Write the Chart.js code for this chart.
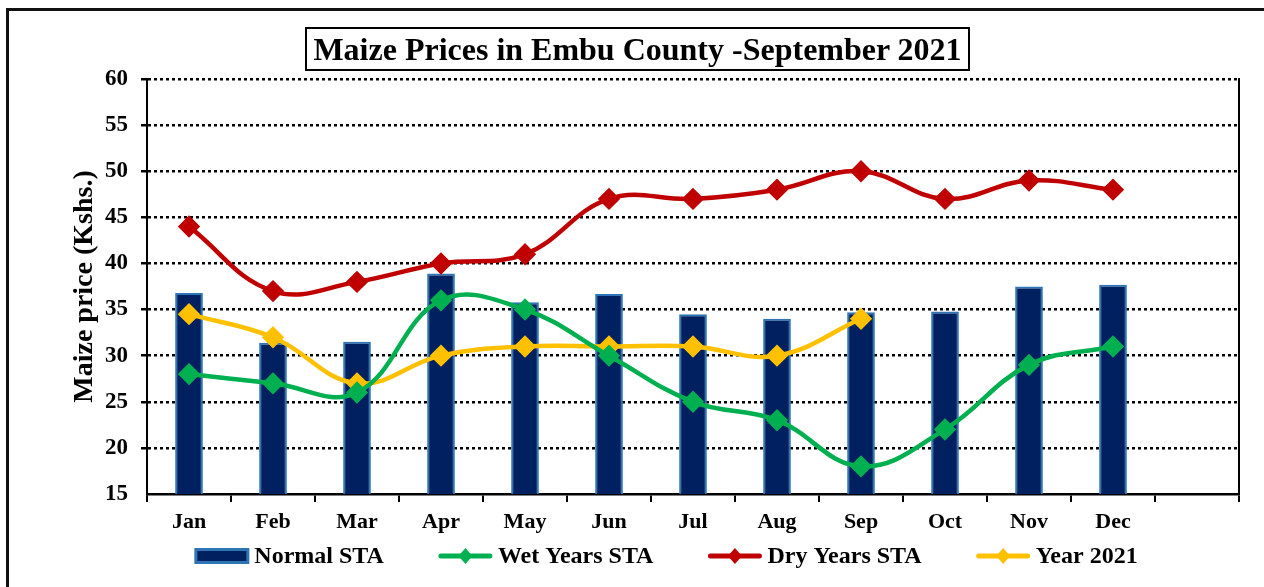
<!DOCTYPE html>
<html>
<head>
<meta charset="utf-8">
<script src="https://cdn.jsdelivr.net/npm/chart.js@4"></script>
<style>
  html, body { margin: 0; padding: 0; background: #fff; overflow: hidden; }
  #wrap { position: relative; width: 1264px; height: 587px; }
  #frame { position: absolute; left: 6px; top: 8px; width: 1300px; height: 700px; border: 3px solid #111; }
  #title { position: absolute; left: 305px; top: 27px; width: 661px; height: 40px; border: 2px solid #000;
           font: bold 32px "Liberation Serif", "Times New Roman", serif; text-align: center; line-height: 41px; color: #000;
           white-space: nowrap; }
  canvas { position: absolute; left: 0; top: 0; }
</style>
</head>
<body>
<div id="wrap">
  <div id="frame"></div>
  <canvas id="c" width="1264" height="587"></canvas>
  <div id="title">Maize Prices in Embu County -September 2021</div>
</div>
<script>
const months = ["Jan", "Feb", "Mar", "Apr", "May", "Jun", "Jul", "Aug", "Sep", "Oct", "Nov", "Dec", ""];
const normalSTA = [36.8, 31.4, 31.5, 38.9, 35.8, 36.7, 34.5, 34.0, 34.7, 34.8, 37.5, 37.7, null];
const wetYears = [28, 27, 26, 36, 35, 30, 25, 23, 18, 22, 29, 31, null];
const dryYears = [44, 37, 38, 40, 41, 47, 47, 48, 50, 47, 49, 48, null];
const year2021 = [34.5, 32, 27, 30, 31, 31, 31, 30, 34, null, null, null, null];
const yTicks = [15, 20, 25, 30, 35, 40, 45, 50, 55, 60];

const serif = '"Liberation Serif", "Times New Roman", serif';

const lineDs = (label, data, color) => ({
    type: 'line', label: label, data: data,
    borderColor: color, backgroundColor: color, borderWidth: 4.5,
    tension: 0.4, pointStyle: 'rectRot', pointRadius: 8, pointHoverRadius: 8,
    spanGaps: false, order: 1
});

// legend drawn by hand: swatch + text in a row under the axis
const legendRow = {
    id: 'legendRow',
    afterDraw(chart) {
        const ctx = chart.ctx;
        const y = 556, swW = 55, gap = 5, spacing = 54;
        ctx.save();
        ctx.font = 'bold 24px ' + serif;
        const items = chart.data.datasets.map(ds => ({ ds, w: swW + gap + ctx.measureText(ds.label).width }));
        const total = items.reduce((a, it) => a + it.w, 0) + spacing * (items.length - 1);
        let x = 666 - total / 2;
        items.forEach(({ ds, w }) => {
            if (ds.type === 'bar') {
                ctx.fillStyle = ds.borderColor;
                ctx.fillRect(x, y - 8, swW, 16);
                ctx.fillStyle = ds.backgroundColor;
                ctx.fillRect(x + 3, y - 5, swW - 6, 10);
            } else {
                ctx.strokeStyle = ds.borderColor;
                ctx.lineWidth = 5;
                ctx.lineCap = 'round';
                ctx.beginPath(); ctx.moveTo(x + 3, y); ctx.lineTo(x + swW - 3, y); ctx.stroke();
                ctx.fillStyle = ds.borderColor;
                const cx = x + swW / 2;
                ctx.beginPath(); ctx.moveTo(cx, y - 8); ctx.lineTo(cx + 7, y); ctx.lineTo(cx, y + 8); ctx.lineTo(cx - 7, y); ctx.closePath(); ctx.fill();
            }
            ctx.fillStyle = '#000';
            ctx.textBaseline = 'middle';
            ctx.fillText(ds.label, x + swW + gap, y + 1);
            x += w + spacing;
        });
        ctx.restore();
    }
};

new Chart(document.getElementById('c'), {
    data: {
        labels: months,
        datasets: [
            { type: 'bar', label: 'Normal STA', data: normalSTA, backgroundColor: '#002060', borderColor: '#2E75B6',
              borderWidth: 2, barPercentage: 0.33, categoryPercentage: 1, order: 2 },
            lineDs('Wet Years STA', wetYears, '#00B050'),
            lineDs('Dry Years STA', dryYears, '#C00000'),
            lineDs('Year 2021', year2021, '#FFC000')
        ]
    },
    options: {
        responsive: false,
        animation: false,
        devicePixelRatio: 1,
        layout: { padding: { left: 0, top: 79, right: 0, bottom: 51 } },
        plugins: {
            tooltip: { enabled: false },
            legend: { display: false }
        },
        scales: {
            x: {
                offset: true,
                afterFit: s => { s.height = 42; },
                grid: { offset: true, drawOnChartArea: false, tickLength: 8, color: '#000', lineWidth: 2 },
                border: { color: '#000', width: 2.5 },
                ticks: { color: '#000', padding: 7, maxRotation: 0, font: { family: serif, size: 22, weight: 'bold' } }
            },
            y: {
                min: 15, max: 60,
                afterFit: s => { s.width = 147; },
                afterBuildTicks: s => { s.ticks = yTicks.map(v => ({ value: v })); },
                title: { display: true, text: 'Maize price (Kshs.)', color: '#000', padding: { top: 68, bottom: 0 },
                         font: { family: serif, size: 28, weight: 'bold' } },
                grid: { color: c => (c.tick && c.tick.value === 15) ? 'rgba(0,0,0,0)' : '#000', lineWidth: 2.5, tickLength: 6 },
                border: { color: '#000', width: 2, dash: [3, 3] },
                ticks: { color: '#000', padding: 13, font: { family: serif, size: 23, weight: 'bold' } }
            },
            y2: {
                position: 'right', min: 15, max: 60,
                afterFit: s => { s.width = 25; },
                grid: { drawOnChartArea: false, drawTicks: false },
                border: { color: '#000', width: 2 },
                ticks: { display: false }
            }
        }
    },
    plugins: [legendRow]
});
</script>
</body>
</html>
